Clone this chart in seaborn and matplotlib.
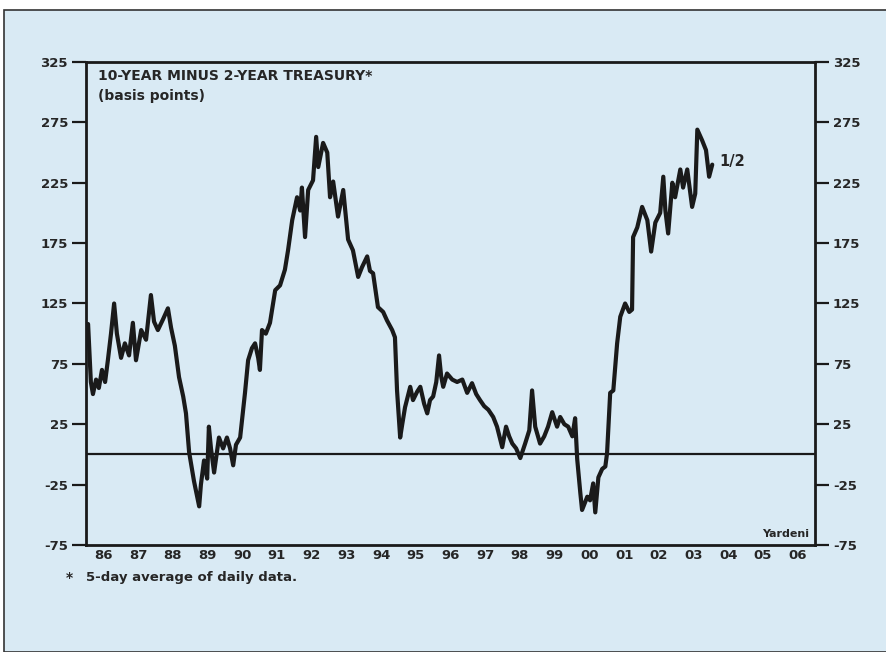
import matplotlib
matplotlib.use("Agg")
import matplotlib.pyplot as plt
import numpy as np
import pandas as pd
import seaborn as sns
from matplotlib.patches import Rectangle

# decimal year and spread in basis points
years = [
    1986.00, 1986.06, 1986.14, 1986.20, 1986.29, 1986.37, 1986.46, 1986.55, 1986.63, 1986.72,
    1986.81, 1986.89, 1987.01, 1987.12, 1987.24, 1987.35, 1987.44, 1987.59, 1987.73, 1987.87,
    1987.96, 1988.07, 1988.22, 1988.36, 1988.45, 1988.56, 1988.68, 1988.80, 1988.88, 1988.97,
    1989.11, 1989.26, 1989.31, 1989.40, 1989.49, 1989.54, 1989.60, 1989.69, 1989.83, 1989.95,
    1990.06, 1990.15, 1990.24, 1990.32, 1990.44, 1990.58, 1990.67, 1990.78, 1990.87, 1990.96,
    1991.01, 1991.07, 1991.18, 1991.30, 1991.45, 1991.59, 1991.73, 1991.82, 1991.94, 1992.08,
    1992.17, 1992.22, 1992.31, 1992.40, 1992.54, 1992.63, 1992.69, 1992.83, 1992.95, 1993.03,
    1993.12, 1993.26, 1993.41, 1993.55, 1993.69, 1993.84, 1993.95, 1994.10, 1994.18, 1994.27,
    1994.41, 1994.56, 1994.67, 1994.82, 1994.90, 1994.96, 1995.05, 1995.11, 1995.19, 1995.34,
    1995.42, 1995.54, 1995.63, 1995.74, 1995.83, 1995.91, 1996.00, 1996.09, 1996.17, 1996.23,
    1996.29, 1996.40, 1996.55, 1996.69, 1996.84, 1996.98, 1997.12, 1997.24, 1997.35, 1997.47,
    1997.59, 1997.73, 1997.84, 1997.99, 1998.10, 1998.19, 1998.28, 1998.39, 1998.51, 1998.65,
    1998.77, 1998.85, 1998.94, 1999.08, 1999.20, 1999.31, 1999.43, 1999.57, 1999.66, 1999.78,
    1999.89, 2000.01, 2000.09, 2000.15, 2000.24, 2000.29, 2000.44, 2000.52, 2000.61, 2000.67,
    2000.76, 2000.87, 2000.96, 2001.01, 2001.10, 2001.19, 2001.30, 2001.39, 2001.53, 2001.65,
    2001.73, 2001.76, 2001.88, 2002.02, 2002.17, 2002.28, 2002.40, 2002.54, 2002.63, 2002.69,
    2002.77, 2002.89, 2002.97, 2003.12, 2003.20, 2003.32, 2003.46, 2003.55, 2003.61, 2003.75,
    2003.86, 2003.95, 2004.04,
]
spread = [
    105, 108, 60, 50, 62, 55, 70, 60, 78, 100,
    125, 100, 80, 92, 82, 109, 78, 103, 95, 132,
    110, 103, 112, 121, 105, 90, 64, 48, 34, 2,
    -22, -43, -25, -5, -20, 23, 5, -15, 14, 5,
    14, 5, -9, 8, 14, 51, 78, 88, 92, 80,
    70, 103, 100, 109, 136, 140, 153, 169, 194, 213,
    202, 221, 180, 219, 227, 263, 238, 258, 250, 213,
    226, 197, 219, 178, 169, 147, 155, 164, 152, 150,
    122, 118, 111, 103, 97, 53, 14, 25, 39, 56,
    45, 52, 56, 42, 34, 45, 48, 60, 82, 65,
    56, 67, 62, 60, 62, 51, 59, 50, 45, 40,
    37, 31, 23, 6, 23, 15, 9, 5, -3, 9,
    20, 53, 23, 9, 15, 23, 35, 23, 31, 25,
    23, 15, 30, -4, -32, -46, -35, -38, -24, -48,
    -19, -12, -10, 1, 51, 53, 92, 114, 125, 118,
    120, 180, 188, 205, 194, 168, 192, 200, 230, 202,
    183, 225, 213, 236, 221, 236, 205, 216, 269, 260,
    252, 230, 240,
]

year_labels = ["86", "87", "88", "89", "90", "91", "92", "93", "94", "95", "96",
               "97", "98", "99", "00", "01", "02", "03", "04", "05", "06"]
y_ticks = [325, 275, 225, 175, 125, 75, 25, -25, -75]

BG = "#d9eaf4"
INK = "#1a1a1a"

sns.set_style("white")
plt.rcParams["font.family"] = ["DejaVu Sans"]
plt.rcParams["font.weight"] = "bold"

df = pd.DataFrame({"year": years, "spread": spread})

fig = plt.figure(figsize=(8.87, 6.52), dpi=100, facecolor="white")
# light blue panel with thin frame, behind everything
fig.patches.append(Rectangle((4 / 887, 0), 1, 1 - 10 / 652, transform=fig.transFigure,
                             facecolor=BG, edgecolor="#333333", linewidth=1.2, zorder=-10))

ax = fig.add_axes([86 / 887, 1 - 545 / 652, (815 - 86) / 887, (545 - 62) / 652])
ax.set_facecolor(BG)

sns.lineplot(data=df, x="year", y="spread", ax=ax, color=INK, linewidth=3.0)
ax.axhline(0, color=INK, linewidth=1.6, zorder=1)

ax.set_xlim(1986, 2007)
ax.set_ylim(-75, 325)
ax.set_xlabel("")
ax.set_ylabel("")

for side in ["left", "right", "top", "bottom"]:
    ax.spines[side].set_visible(True)
    ax.spines[side].set_color(INK)
    ax.spines[side].set_linewidth(2)

# year boundaries as ticks, labels centred between them
ax.set_xticks(np.arange(1986, 2008))
ax.set_xticklabels([])
ax.set_xticks(np.arange(1986, 2007) + 0.5, minor=True)
ax.set_xticklabels(year_labels, minor=True, fontsize=9.5, fontweight="bold")
ax.tick_params(axis="x", which="major", direction="out", length=9, width=1.6, color=INK)
ax.tick_params(axis="x", which="minor", length=0, pad=3)

ax.set_yticks(y_ticks)
ax.set_yticklabels([str(v) for v in y_ticks], fontsize=9.5, fontweight="bold")
ax.tick_params(axis="y", which="major", direction="out", length=10, width=1.6, color=INK,
               left=True, right=True, labelleft=True, labelright=True, pad=3)

ax.text(0.016, 0.985, "10-YEAR MINUS 2-YEAR TREASURY*", transform=ax.transAxes,
        fontsize=10, fontweight="bold", va="top", ha="left")
ax.text(0.016, 0.945, "(basis points)", transform=ax.transAxes,
        fontsize=10, fontweight="bold", va="top", ha="left")
ax.annotate("1/2", xy=(years[-1], spread[-1]), xytext=(5, 2), textcoords="offset points",
            fontsize=10.5, fontweight="bold", va="center", ha="left")
ax.text(0.992, 0.012, "Yardeni", transform=ax.transAxes, fontsize=8, fontweight="bold",
        va="bottom", ha="right")

fig.text(66 / 887, 1 - 578 / 652, "*", fontsize=10, fontweight="bold", va="center", ha="left")
fig.text(86 / 887, 1 - 578 / 652, "5-day average of daily data.", fontsize=9.5,
         fontweight="bold", va="center", ha="left")

fig.savefig("out.png", dpi=100, facecolor=fig.get_facecolor())
